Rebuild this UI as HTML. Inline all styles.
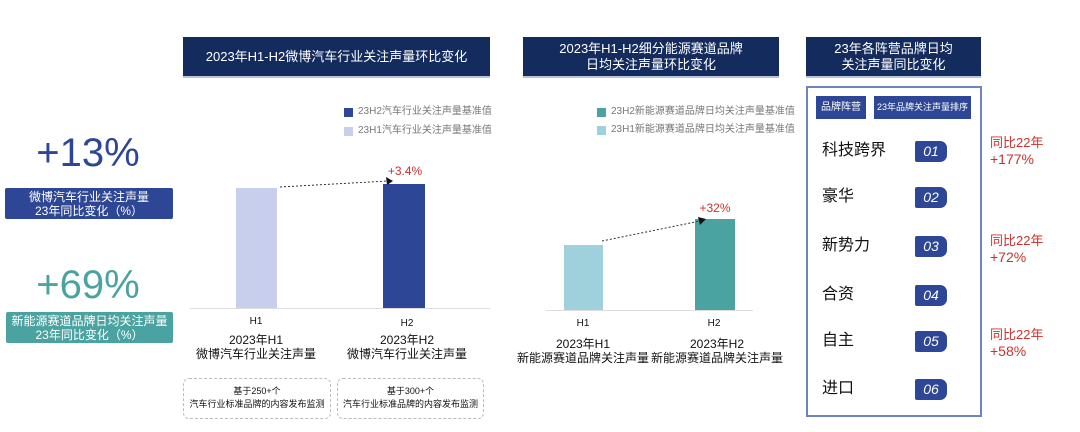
<!DOCTYPE html><html><head><meta charset="utf-8"><style>
*{margin:0;padding:0;box-sizing:border-box}
body{width:1080px;height:432px;background:#fff;position:relative;overflow:hidden;font-family:"Liberation Sans","Noto Sans CJK SC",sans-serif;color:#111}
.a{position:absolute}
.hd{background:#142b5e;color:#fff;font-size:13px;display:flex;align-items:center;justify-content:center;text-align:center;line-height:16px;border-bottom:2px solid #b8c3e0}
.c{text-align:center;white-space:nowrap}
.bdg{background:#2e4696;color:#fff;font-style:italic;font-size:14px;text-align:center;line-height:21px;border-radius:2px 7px 7px 2px;width:32px;height:21px;left:915px}
.rw{left:822px;font-size:16px;line-height:20px}
.rd{left:990px;color:#c8332e;font-size:13px;line-height:16px}
.lg{font-size:10px;color:#777;line-height:12px;white-space:nowrap}
.db{border:1px dashed #bbb;border-radius:6px;font-size:9px;text-align:center;line-height:13px;padding-top:6px;white-space:nowrap}
</style></head><body>
<div class="a c" style="left:0;width:176px;top:130px;font-size:40px;color:#2e4696;line-height:46px">+13%</div>
<div class="a c" style="left:5px;width:168px;top:188px;height:31px;background:#2e4696;color:#fff;font-size:12px;line-height:14px;padding-top:2px;border-radius:2px">微博汽车行业关注声量<br>23年同比变化（%）</div>
<div class="a c" style="left:0;width:176px;top:262px;font-size:40px;color:#4aa3a0;line-height:46px">+69%</div>
<div class="a c" style="left:6px;width:167px;top:312px;height:31px;background:#4aa3a0;color:#fff;font-size:12px;line-height:14px;padding-top:2px;border-radius:2px">新能源赛道品牌日均关注声量<br>23年同比变化（%）</div>

<div class="a hd" style="left:183px;top:37px;width:307px;height:41px">2023年H1-H2微博汽车行业关注声量环比变化</div>
<div class="a" style="left:344px;top:108px;width:9px;height:9px;background:#2e4696"></div>
<div class="a lg" style="left:358px;top:106px">23H2汽车行业关注声量基准值</div>
<div class="a" style="left:344px;top:127px;width:9px;height:9px;background:#c8cfec"></div>
<div class="a lg" style="left:358px;top:125px">23H1汽车行业关注声量基准值</div>
<div class="a" style="left:190px;top:308px;width:300px;height:1px;background:#ddd"></div>
<div class="a" style="left:236px;top:188px;width:41px;height:120px;background:#c8cfec"></div>
<div class="a" style="left:383px;top:184px;width:42px;height:124px;background:#2e4696"></div>
<svg class="a" style="left:270px;top:175px" width="130" height="15"><line x1="10" y1="12" x2="118" y2="6" stroke="#333" stroke-dasharray="2,2"/><polygon points="123,6 116,2 117,10" fill="#111"/></svg>
<div class="a c" style="left:380px;width:50px;top:164px;color:#c8332e;font-size:12px">+3.4%</div>
<div class="a c" style="left:236px;width:40px;top:316px;font-size:10px">H1</div>
<div class="a c" style="left:387px;width:40px;top:318px;font-size:10px">H2</div>
<div class="a c" style="left:176px;width:160px;top:333px;font-size:12px;line-height:14px">2023年H1<br>微博汽车行业关注声量</div>
<div class="a c" style="left:327px;width:160px;top:333px;font-size:12px;line-height:14px">2023年H2<br>微博汽车行业关注声量</div>
<div class="a db" style="left:183px;top:378px;width:148px;height:41px">基于250+个<br>汽车行业标准品牌的内容发布监测</div>
<div class="a db" style="left:337px;top:378px;width:147px;height:41px">基于300+个<br>汽车行业标准品牌的内容发布监测</div>

<div class="a hd" style="left:523px;top:37px;width:256px;height:41px">2023年H1-H2细分能源赛道品牌<br>日均关注声量环比变化</div>
<div class="a" style="left:597px;top:108px;width:9px;height:9px;background:#4aa3a0"></div>
<div class="a lg" style="left:611px;top:106px">23H2新能源赛道品牌日均关注声量基准值</div>
<div class="a" style="left:597px;top:126px;width:9px;height:9px;background:#9fd1dc"></div>
<div class="a lg" style="left:611px;top:124px">23H1新能源赛道品牌日均关注声量基准值</div>
<div class="a" style="left:546px;top:310px;width:207px;height:1px;background:#ddd"></div>
<div class="a" style="left:564px;top:245px;width:39px;height:65px;background:#9fd1dc"></div>
<div class="a" style="left:695px;top:219px;width:40px;height:91px;background:#4aa3a0"></div>
<svg class="a" style="left:600px;top:215px" width="110" height="30"><line x1="2" y1="26" x2="100" y2="6" stroke="#333" stroke-dasharray="2,2"/><polygon points="106,4 98,2 100,10" fill="#111"/></svg>
<div class="a c" style="left:690px;width:50px;top:201px;color:#c8332e;font-size:12px">+32%</div>
<div class="a c" style="left:563px;width:40px;top:318px;font-size:10px">H1</div>
<div class="a c" style="left:694px;width:40px;top:318px;font-size:10px">H2</div>
<div class="a c" style="left:513px;width:140px;top:337px;font-size:12px;line-height:14px">2023年H1<br>新能源赛道品牌关注声量</div>
<div class="a c" style="left:642px;width:150px;top:337px;font-size:12px;line-height:14px">2023年H2<br>新能源赛道品牌关注声量</div>

<div class="a hd" style="left:806px;top:37px;width:175px;height:41px">23年各阵营品牌日均<br>关注声量同比变化</div>
<div class="a" style="left:806px;top:86px;width:176px;height:331px;border:2px solid #6f82c4"></div>
<div class="a c" style="left:816px;top:96px;width:50px;height:23px;background:#2e4696;color:#fff;font-size:10px;line-height:23px">品牌阵营</div>
<div class="a c" style="left:874px;top:96px;width:97px;height:23px;background:#2e4696;color:#fff;font-size:9px;line-height:23px">23年品牌关注声量排序</div>
<div class="a rw" style="top:141px">科技跨界</div><div class="a bdg" style="top:141px">01</div>
<div class="a rw" style="top:187px">豪华</div><div class="a bdg" style="top:187px">02</div>
<div class="a rw" style="top:236px">新势力</div><div class="a bdg" style="top:236px">03</div>
<div class="a rw" style="top:285px">合资</div><div class="a bdg" style="top:285px">04</div>
<div class="a rw" style="top:331px">自主</div><div class="a bdg" style="top:331px">05</div>
<div class="a rw" style="top:379px">进口</div><div class="a bdg" style="top:379px">06</div>
<div class="a rd" style="top:135px">同比22年<br><span style="font-size:14px">+177%</span></div>
<div class="a rd" style="top:233px">同比22年<br><span style="font-size:14px">+72%</span></div>
<div class="a rd" style="top:327px">同比22年<br><span style="font-size:14px">+58%</span></div>
</body></html>
